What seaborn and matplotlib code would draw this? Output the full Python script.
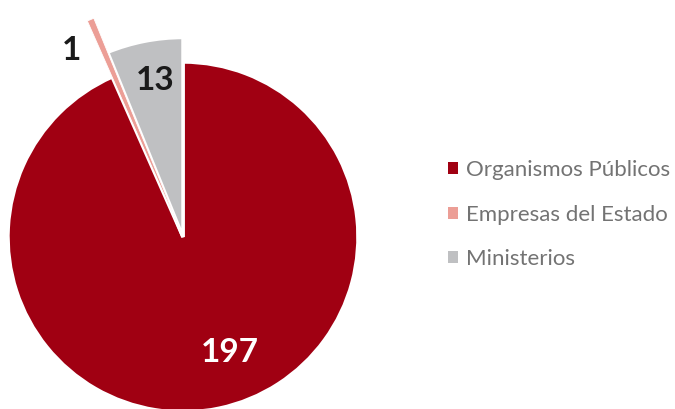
import matplotlib
matplotlib.use("Agg")
import matplotlib.pyplot as plt
import seaborn as sns

sns.set_theme(style="white")
plt.rcParams['font.family'] = ['Lato', 'DejaVu Sans']

categories = ["Organismos Públicos", "Empresas del Estado", "Ministerios"]
values = [197, 1, 13]
colors = ["#A00012", "#EC9E96", "#BFC0C2"]
radii = [1.0, 1.35, 1.14]

fig = plt.figure(figsize=(6.75, 4.09), dpi=100)
ax = fig.add_axes([0, 0, 1, 1])
wedges, _ = ax.pie(values, colors=colors, startangle=90, counterclock=False,
                   wedgeprops=dict(edgecolor="white", linewidth=2.5))
for w, r in zip(wedges, radii):
    w.set_radius(r)
wedges[1].set_edgecolor("white")
wedges[1].set_linewidth(0.6)
wedges[1].set_zorder(5)

R = 175.0
cx, cy = 183.0, 237.0
ax.set_aspect('auto')
ax.set_xlim(-cx / R, (675 - cx) / R)
ax.set_ylim(-(409 - cy) / R, cy / R)
ax.axis('off')

def px(x, y):
    return ((x - cx) / R, (cy - y) / R)

ax.text(*px(230, 352), str(values[0]), color="white", fontsize=24, fontweight="bold",
        ha="center", va="center")
ax.text(*px(155, 81), str(values[2]), color="#1a1a1a", fontsize=24, fontweight="bold",
        ha="center", va="center")
ax.text(*px(72, 50), str(values[1]), color="#1a1a1a", fontsize=24, fontweight="bold",
        ha="center", va="center")

leg = fig.legend(wedges, categories, loc="upper left",
                 bbox_to_anchor=(437 / 675, 1 - 149 / 409), frameon=False,
                 fontsize=16, handlelength=0.45, handleheight=0.45,
                 handletextpad=0.35, labelspacing=1.1, borderpad=0)
for t in leg.get_texts():
    t.set_color("#737373")
for h in leg.legend_handles:
    h.set_linewidth(0)

fig.savefig("out.png", dpi=100)
